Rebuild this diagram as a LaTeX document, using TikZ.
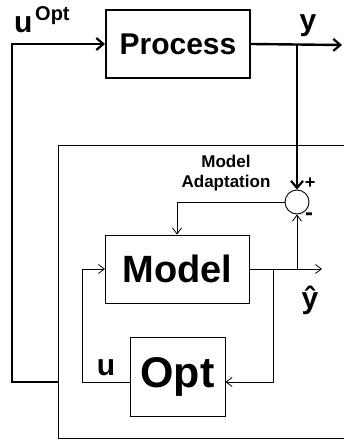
\documentclass[tikz,border=0pt]{standalone}
\usepackage{fontspec}
\setmainfont{Liberation Sans}
\usetikzlibrary{arrows.meta}
\begin{document}
\begin{tikzpicture}[x=1pt,y=-1pt,
  thickline/.style={line width=2.4pt},
  thinline/.style={line width=0.9pt},
  thickarrow/.style={thickline,-{Straight Barb[length=7pt,width=12pt,line width=2.2pt]}},
  thinarrow/.style={thinline,-{Straight Barb[length=6pt,width=9pt,line width=0.8pt]}},
  blockbox/.style={draw,rectangle,inner sep=0pt,font=\bfseries},
  lbl/.style={inner sep=0pt,font=\bfseries}]
\useasboundingbox (0,0) rectangle (344,441);
% blocks
\node[blockbox,line width=2pt,minimum width=144pt,minimum height=68pt,font=\bfseries\fontsize{30}{36}\selectfont] (process) at (178,44) {Process};
\node[blockbox,line width=0.9pt,minimum width=144pt,minimum height=68pt,font=\bfseries\fontsize{38}{44}\selectfont] (model) at (177.5,269) {Model};
\node[blockbox,line width=0.9pt,minimum width=95pt,minimum height=79pt,font=\bfseries\fontsize{43}{50}\selectfont] (opt) at (177.5,376.5) {Opt};
\node[draw,circle,line width=0.9pt,minimum size=24pt,inner sep=0pt] (sum) at (297,202) {};
% big frame (open to the right)
\coordinate (frTL) at (344,145);
\coordinate (frL1) at (58,145);
\coordinate (frL2) at (58,438);
\coordinate (frBR) at (344,438);
\draw[thinline] (frTL) -- (frL1) -- (frL2) -- (frBR);
% coordinates
\coordinate (uopt) at (58,382);
\coordinate (leftc) at (12,382);
\coordinate (yout) at (342,45);
\coordinate (ybranch) at (297,45);
\coordinate (yhatout) at (322,269);
\coordinate (sumbranch) at (297,269);
\coordinate (optbranch) at (273,269);
\coordinate (adapt) at (177,202);
\coordinate (uleft) at (82,382);
% thick connectors
\draw[thickarrow] (uopt) -- (leftc) |- (process.west);
\draw[thickarrow] (process.east) -- (yout);
\draw[thickarrow] (ybranch) -- (sum.north);
% thin connectors
\draw[thinarrow] (sum.west) -- (adapt) -- (model.north -| adapt);
\draw[thinarrow] (model.east) -- (yhatout);
\draw[thinarrow] (sumbranch) -- (sum.south);
\draw[thinarrow] (optbranch) |- ([yshift=-5.5pt]opt.east);
\draw[thinarrow] ([yshift=-5.5pt]opt.west) -- (uleft) |- (model.west);
% labels
\node[lbl,anchor=base west,font=\bfseries\fontsize{30}{36}\selectfont] (ulabel) at (14,33) {u};
\node[lbl,anchor=base west,font=\bfseries\fontsize{20}{24}\selectfont] (optsup) at (35,21) {Opt};
\node[lbl,anchor=base,font=\bfseries\fontsize{30}{36}\selectfont] (ylabel) at (308,31) {y};
\node[lbl,align=center,font=\bfseries\fontsize{17}{20}\selectfont] (adlabel) at (226,173) {Model\\Adaptation};
\node[lbl,font=\bfseries\fontsize{18}{20}\selectfont] (plus) at (310,183) {+};
\node[lbl,font=\bfseries\fontsize{24}{26}\selectfont] (minus) at (309,217) {-};
\node[lbl,anchor=base,font=\bfseries\fontsize{30}{36}\selectfont] (yhat) at (310,308) {\^{y}};
\node[lbl,anchor=base,font=\bfseries\fontsize{30}{36}\selectfont] (ulow) at (106,375) {u};
\end{tikzpicture}
\end{document}
